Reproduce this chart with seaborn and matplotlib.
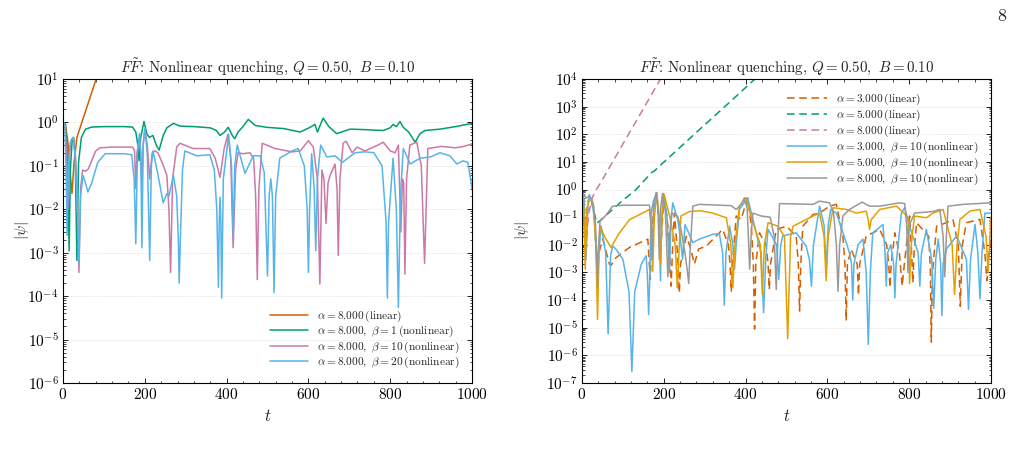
import numpy as np
import pandas as pd
import matplotlib
matplotlib.use("Agg")
import matplotlib.pyplot as plt
from matplotlib.ticker import AutoMinorLocator, LogLocator, NullFormatter
import seaborn as sns

# ---------------- data ----------------
# Left panel: alpha = 8
L_lin_t = [0, 6, 12, 18, 22, 27, 34, 50, 70, 90]
L_lin_v = [1.0, 0.9, 0.35, 0.06, 0.023, 0.12, 0.45, 1.3, 4.8, 18]

L_b1_t = [0, 5, 9, 12, 15, 18, 22, 26, 30, 34, 38, 45, 55, 70, 100, 150, 170, 178, 183, 186, 190,
          198, 205, 211, 220, 228, 235, 245, 254, 270, 286, 320, 360, 375, 384, 395, 404, 414, 420,
          428, 440, 453, 470, 498, 540, 580, 604, 616, 622, 636, 650, 669, 702, 740, 783, 800, 807,
          815, 824, 832, 845, 861, 873, 885, 922, 960, 1000]
L_b1_v = [1.0, 0.95, 0.4, 0.05, 1.1e-3, 0.08, 0.35, 0.45, 0.15, 6.6e-4, 0.12, 0.45, 0.7, 0.78, 0.8,
          0.8, 0.78, 0.6, 0.3, 0.13, 0.45, 1.05, 0.55, 0.45, 0.5, 0.3, 0.23, 0.5, 0.75, 0.95, 0.82,
          0.8, 0.75, 0.65, 0.5, 0.6, 0.77, 0.5, 0.42, 0.6, 0.8, 1.17, 0.85, 0.77, 0.72, 0.6, 0.77,
          0.9, 0.6, 1.25, 0.8, 0.55, 0.7, 0.68, 0.65, 0.75, 0.9, 0.8, 1.05, 0.77, 0.6, 0.35, 0.55,
          0.65, 0.7, 0.8, 0.95]

L_b10_t = [0, 5, 9, 12, 16, 20, 25, 30, 35, 39, 43, 48, 55, 62, 70, 80, 90, 120, 170, 175, 178, 181,
           187, 190, 193, 196, 200, 206, 212, 218, 225, 232, 244, 254, 259, 263, 268, 278, 286, 318,
           359, 372, 384, 394, 403, 410, 416, 422, 428, 440, 457, 466, 471, 475, 479, 487, 498, 518,
           560, 580, 600, 612, 622, 628, 633, 638, 643, 648, 653, 665, 670, 673, 677, 685, 692, 707,
           719, 738, 770, 783, 800, 812, 820, 826, 830, 833, 836, 840, 848, 865, 876, 884, 892, 925,
           960, 980, 1000]
L_b10_v = [1.0, 0.9, 0.15, 0.01, 0.2, 0.4, 0.45, 0.2, 0.02, 3.5e-4, 0.03, 0.08, 0.075, 0.085, 0.13,
           0.22, 0.26, 0.27, 0.27, 0.22, 0.03, 0.2, 0.45, 0.2, 0.03, 0.3, 0.72, 0.3, 0.05, 0.2, 0.22,
           0.2, 0.11, 0.06, 0.01, 3.5e-4, 0.05, 0.27, 0.33, 0.25, 0.25, 0.15, 0.054, 0.25, 0.53,
           0.15, 1.3e-3, 0.08, 0.2, 0.19, 0.2, 0.15, 0.02, 2.4e-4, 0.03, 0.33, 0.3, 0.25, 0.21, 0.22,
           0.38, 0.27, 0.05, 1.9e-4, 0.08, 0.05, 4.7e-3, 0.04, 0.06, 0.11, 0.03, 8.7e-4, 0.05, 0.33,
           0.37, 0.2, 0.27, 0.22, 0.3, 0.35, 0.22, 0.2, 0.3, 3e-3, 0.05, 0.04, 3.2e-4, 0.05, 0.3,
           0.35, 0.1, 5.7e-4, 0.25, 0.28, 0.26, 0.28, 0.32]

L_b20_t = [0, 5, 8, 10, 13, 18, 25, 30, 35, 39, 43, 49, 55, 61, 70, 85, 103, 150, 168, 174, 178, 182,
           187, 190, 193, 196, 200, 206, 212, 216, 220, 230, 245, 254, 259, 270, 278, 282, 284, 287,
           292, 298, 327, 359, 370, 376, 380, 382, 384, 386, 388, 392, 405, 412, 416, 420, 426, 445,
           465, 482, 492, 500, 504, 508, 512, 516, 520, 530, 560, 575, 590, 597, 600, 603, 608, 614,
           618, 622, 630, 645, 665, 683, 714, 738, 760, 780, 790, 793, 796, 807, 815, 820, 825, 832,
           849, 873, 898, 922, 946, 963, 978, 990, 1000]
L_b20_v = [1.0, 0.85, 0.05, 2.5e-3, 0.1, 0.35, 0.45, 0.15, 0.01, 5.7e-4, 0.02, 0.06, 0.04, 0.025,
           0.04, 0.12, 0.19, 0.19, 0.18, 0.05, 1.6e-3, 0.2, 0.55, 0.2, 1.3e-3, 0.3, 0.73, 0.2, 6.6e-4,
           0.1, 0.22, 0.08, 0.014, 0.023, 0.02, 0.06, 0.02, 2e-3, 2e-4, 2e-3, 0.08, 0.22, 0.17, 0.18,
           0.08, 0.01, 1.6e-4, 0.005, 0.019, 0.005, 9e-5, 0.05, 0.53, 0.1, 2.5e-3, 0.1, 0.3, 0.067,
           0.17, 0.17, 0.07, 2.9e-4, 0.02, 0.05, 0.02, 1.2e-4, 0.02, 0.15, 0.22, 0.25, 0.1, 0.01,
           3.5e-4, 0.01, 0.19, 0.03, 1.1e-3, 0.05, 0.3, 0.16, 0.17, 0.12, 0.2, 0.21, 0.2, 0.1, 0.005,
           9e-5, 0.005, 0.15, 0.01, 5.5e-5, 0.02, 0.25, 0.11, 0.15, 0.16, 0.2, 0.17, 0.11, 0.13, 0.12,
           0.03]

# Right panel: linear runs
R_a3_lin_t = [0, 5, 10, 14, 18, 24, 30, 35, 38, 41, 51, 60, 67, 71, 83, 116, 161, 164, 167, 170, 176,
              183, 188, 192, 196, 201, 210, 215, 218, 221, 226, 232, 235, 238, 241, 255, 265, 275, 285,
              304, 344, 358, 362, 365, 368, 377, 389, 405, 414, 419, 422, 425, 434, 450, 455, 458, 461,
              475, 500, 524, 529, 532, 535, 540, 565, 581, 605, 622, 638, 643, 646, 649, 658, 673, 676,
              679, 695, 711, 728, 745, 750, 753, 756, 765, 776, 780, 783, 786, 801, 806, 809, 812, 818,
              848, 852, 854, 857, 867, 891, 907, 920, 925, 930, 940, 956, 973, 985, 990, 995, 1000]
R_a3_lin_v = [0.7, 0.4, 5e-3, 0.2, 0.6, 0.4, 0.1, 0.005, 5e-4, 0.005, 0.016, 0.005, 0.002, 0.0018,
              0.0034, 0.008, 0.016, 0.003, 5.6e-4, 0.01, 0.3, 0.87, 0.05, 0.005, 0.05, 0.76, 0.05,
              0.003, 3.2e-4, 0.005, 0.14, 0.01, 0.002, 1.8e-4, 0.002, 0.02, 0.008, 0.002, 0.007, 0.009,
              0.036, 0.01, 0.002, 2e-4, 0.002, 0.11, 0.083, 0.5, 0.05, 0.002, 9e-6, 0.002, 0.027, 0.01,
              0.002, 2.4e-4, 0.002, 0.036, 0.047, 0.02, 0.002, 4e-5, 0.002, 0.047, 0.125, 0.14, 0.25,
              0.29, 0.02, 0.002, 1.8e-5, 0.002, 0.007, 0.002, 1.5e-4, 0.002, 0.021, 0.027, 0.036, 0.01,
              0.002, 2.8e-4, 0.002, 0.027, 0.005, 0.001, 3.2e-4, 0.001, 0.11, 0.005, 4.2e-4, 0.005,
              0.063, 0.02, 0.001, 3e-6, 0.001, 0.047, 0.063, 0.083, 0.01, 6e-5, 0.01, 0.063, 0.072,
              0.083, 0.005, 5e-4, 0.005, 0.016]

R_a5_lin_t = [0, 4, 8, 12, 18, 24, 30, 36, 42, 60, 100, 130, 171, 178, 186, 250, 300, 350, 423, 460]
R_a5_lin_v = [0.7, 0.3, 5e-3, 0.2, 0.6, 0.35, 0.15, 0.06, 0.07, 0.12, 0.41, 0.92, 4.2, 4.8, 6.3, 46,
              220, 1020, 1e4, 3.1e4]

R_a8_lin_t = [0, 4, 8, 12, 17, 25, 35, 44, 100, 150, 195]
R_a8_lin_v = [0.7, 0.4, 0.1, 0.025, 0.15, 0.5, 1.0, 1.6, 44, 830, 1.2e4]

# Right panel: nonlinear runs, beta = 10
R_a3_nl_t = [0, 5, 10, 14, 18, 24, 30, 35, 38, 41, 47, 58, 64, 70, 75, 83, 100, 115, 122, 129, 145,
             157, 160, 163, 166, 169, 175, 183, 188, 192, 195, 199, 208, 214, 218, 222, 234, 240, 246,
             252, 271, 287, 320, 336, 344, 348, 352, 361, 369, 373, 377, 385, 405, 418, 438, 444, 450,
             455, 476, 481, 486, 491, 524, 548, 556, 561, 566, 581, 592, 597, 602, 608, 622, 648, 654,
             659, 662, 665, 675, 687, 695, 700, 705, 711, 736, 741, 744, 747, 755, 762, 765, 768, 781,
             789, 801, 822, 826, 830, 842, 855, 860, 865, 871, 877, 880, 883, 891, 916, 940, 945, 950,
             961, 968, 973, 978, 985, 1000]
R_a3_nl_v = [0.7, 0.4, 3e-3, 0.2, 0.66, 0.4, 0.1, 5e-3, 3e-4, 5e-3, 0.047, 0.005, 6e-6, 0.004, 0.009,
             0.007, 0.003, 2e-4, 2.6e-7, 2e-4, 0.002, 0.004, 8e-4, 3e-5, 8e-4, 0.14, 0.4, 0.75, 0.1,
             5e-4, 0.1, 0.72, 0.1, 1e-3, 0.1, 0.33, 0.083, 0.02, 0.003, 0.054, 0.012, 0.016, 0.024,
             0.025, 0.005, 6.5e-5, 0.005, 0.047, 0.01, 1.3e-3, 0.01, 0.19, 0.5, 0.083, 0.005, 3.5e-5,
             0.005, 0.036, 0.01, 5.6e-4, 0.01, 0.021, 0.027, 0.009, 0.003, 3.2e-4, 0.01, 0.25, 0.05,
             1.3e-3, 0.05, 0.19, 0.14, 0.01, 0.005, 0.002, 1e-4, 0.002, 0.01, 0.016, 1e-3, 2.5e-6,
             1e-3, 0.027, 0.054, 0.005, 3.2e-4, 0.005, 0.01, 0.002, 1.2e-4, 0.002, 0.14, 0.22, 0.047,
             0.005, 3.2e-4, 0.005, 0.036, 0.003, 5e-5, 0.003, 0.016, 0.002, 2.7e-5, 0.002, 0.007,
             0.021, 0.003, 4.6e-5, 0.003, 0.054, 0.005, 1.1e-4, 0.005, 0.14, 0.14]

R_a5_nl_t = [0, 4, 8, 12, 18, 22, 28, 34, 38, 42, 44, 55, 71, 90, 116, 165, 169, 173, 177, 183, 188,
             192, 196, 201, 215, 228, 233, 238, 242, 263, 290, 320, 353, 364, 369, 374, 385, 401, 414,
             436, 441, 446, 455, 479, 495, 503, 510, 516, 565, 581, 592, 597, 602, 614, 646, 671, 695,
             700, 703, 707, 728, 769, 797, 801, 805, 813, 842, 858, 883, 905, 911, 917, 924, 948, 973,
             988, 993, 1000]
R_a5_nl_v = [0.7, 0.3, 1.3e-3, 0.2, 0.45, 0.5, 0.3, 0.01, 2e-5, 0.01, 0.05, 0.02, 0.008, 0.025, 0.08,
             0.19, 0.05, 1.1e-3, 0.1, 0.72, 0.1, 2e-3, 0.1, 0.66, 0.1, 0.01, 2.8e-4, 0.01, 0.11, 0.16,
             0.17, 0.14, 0.095, 0.01, 2.8e-4, 0.01, 0.25, 0.5, 0.095, 0.01, 1.6e-4, 0.01, 0.063, 0.047,
             0.02, 4e-6, 0.02, 0.047, 0.11, 0.14, 0.02, 5e-4, 0.02, 0.22, 0.19, 0.14, 0.165, 0.08,
             0.036, 0.08, 0.19, 0.25, 0.1, 4e-4, 0.01, 0.11, 0.095, 0.14, 0.19, 0.01, 1.6e-4, 0.01,
             0.083, 0.165, 0.19, 0.02, 1e-3, 0.1]

R_a8_nl_t = [0, 6, 10, 16, 22, 28, 33, 36, 38, 40, 44, 59, 75, 100, 165, 168, 171, 175, 181, 186, 189,
             192, 197, 204, 210, 215, 220, 234, 242, 252, 258, 261, 264, 271, 287, 365, 377, 390, 397,
             404, 410, 414, 418, 438, 460, 470, 475, 479, 483, 565, 581, 605, 615, 622, 626, 630, 638,
             654, 685, 703, 728, 777, 789, 794, 797, 800, 813, 858, 875, 883, 887, 891, 895, 932, 1000]
R_a8_nl_v = [0.8, 0.6, 0.5, 0.55, 0.45, 0.25, 0.05, 0.005, 3e-4, 0.005, 0.07, 0.12, 0.25, 0.27, 0.27,
             0.1, 3e-3, 0.2, 0.75, 0.2, 3e-3, 0.2, 0.72, 0.15, 7e-4, 0.03, 0.14, 0.11, 0.036, 0.005,
             0.001, 4e-4, 0.005, 0.25, 0.29, 0.26, 0.19, 0.3, 0.5, 0.2, 1.3e-3, 0.03, 0.14, 0.11, 0.1,
             0.02, 2.4e-4, 0.02, 0.31, 0.29, 0.38, 0.33, 0.15, 0.01, 2.1e-4, 0.01, 0.11, 0.19, 0.35,
             0.25, 0.25, 0.33, 0.31, 0.05, 1e-3, 0.05, 0.14, 0.16, 0.19, 0.02, 7e-4, 0.02, 0.25, 0.29,
             0.33]

TITLE = r"$F\tilde{F}$: Nonlinear quenching, $Q = 0.50,\ B = 0.10$"

# ---------------- style ----------------
sns.set_style("ticks")
plt.rcParams.update({
    "font.family": ["serif"],
    "font.serif": ["cmr10", "DejaVu Serif"],
    "mathtext.fontset": "cm",
    "axes.formatter.use_mathtext": True,
    "axes.unicode_minus": False,
    "xtick.direction": "in",
    "ytick.direction": "in",
    "xtick.top": True,
    "ytick.right": True,
    "xtick.minor.visible": True,
    "ytick.minor.visible": True,
    "xtick.major.size": 3.5,
    "ytick.major.size": 3.5,
    "xtick.minor.size": 1.8,
    "ytick.minor.size": 1.8,
    "xtick.major.width": 0.6,
    "ytick.major.width": 0.6,
    "xtick.minor.width": 0.5,
    "ytick.minor.width": 0.5,
    "axes.linewidth": 0.8,
    "axes.edgecolor": "black",
    "xtick.color": "black",
    "ytick.color": "black",
})

C_VER = "#D55E00"
C_GRN = "#009E73"
C_PNK = "#CC79A7"
C_BLU = "#56B4E9"
C_ORG = "#E69F00"
C_GRY = "#999999"

fig = plt.figure(figsize=(10.21, 4.58), dpi=100)
axL = fig.add_axes([0.0617, 0.1638, 0.4006, 0.6638])
axR = fig.add_axes([0.5700, 0.1638, 0.4006, 0.6638])

LW = 1.1
DASH = (0, (5, 3))


def draw(ax, t, v, color, label, ls="-"):
    df = pd.DataFrame({"t": t, "v": v})
    sns.lineplot(data=df, x="t", y="v", ax=ax, color=color, lw=LW, linestyle=ls,
                 label=label, estimator=None, sort=False)


draw(axL, L_lin_t, L_lin_v, C_VER, r"$\alpha = 8.000\,$(linear)")
draw(axL, L_b1_t, L_b1_v, C_GRN, r"$\alpha = 8.000,\ \beta = 1\,$(nonlinear)")
draw(axL, L_b10_t, L_b10_v, C_PNK, r"$\alpha = 8.000,\ \beta = 10\,$(nonlinear)")
draw(axL, L_b20_t, L_b20_v, C_BLU, r"$\alpha = 8.000,\ \beta = 20\,$(nonlinear)")

draw(axR, R_a3_lin_t, R_a3_lin_v, C_VER, r"$\alpha = 3.000\,$(linear)", DASH)
draw(axR, R_a5_lin_t, R_a5_lin_v, C_GRN, r"$\alpha = 5.000\,$(linear)", DASH)
draw(axR, R_a8_lin_t, R_a8_lin_v, C_PNK, r"$\alpha = 8.000\,$(linear)", DASH)
draw(axR, R_a3_nl_t, R_a3_nl_v, C_BLU, r"$\alpha = 3.000,\ \beta = 10\,$(nonlinear)")
draw(axR, R_a5_nl_t, R_a5_nl_v, C_ORG, r"$\alpha = 5.000,\ \beta = 10\,$(nonlinear)")
draw(axR, R_a8_nl_t, R_a8_nl_v, C_GRY, r"$\alpha = 8.000,\ \beta = 10\,$(nonlinear)")

for ax, ylim, ylab_x in ((axL, (1e-6, 1e1), -0.078), (axR, (1e-7, 1e4), -0.125)):
    ax.set_yscale("log")
    ax.set_xlim(0, 1000)
    ax.set_ylim(*ylim)
    ax.set_xticks([0, 200, 400, 600, 800, 1000])
    ax.xaxis.set_minor_locator(AutoMinorLocator(5))
    ax.yaxis.set_major_locator(LogLocator(base=10, numticks=20))
    ax.yaxis.set_minor_locator(LogLocator(base=10, subs=np.arange(2, 10) * 0.1 * 10, numticks=100))
    ax.yaxis.set_minor_formatter(NullFormatter())
    ax.grid(axis="y", which="major", ls="--", lw=0.5, color="#e6e6e6")
    ax.set_axisbelow(True)
    ax.tick_params(labelsize=11, pad=3)
    ax.set_xlabel(r"$t$", fontsize=12, labelpad=4)
    ax.set_ylabel(r"$|\psi|$", fontsize=11)
    ax.yaxis.set_label_coords(ylab_x, 0.5)
    ax.set_title(TITLE, fontsize=10.8, pad=5)
    for s in ax.spines.values():
        s.set_visible(True)

axL.legend(loc="lower right", frameon=False, fontsize=8.2, handlelength=3.3,
           labelspacing=0.02, borderaxespad=0.7, handletextpad=0.8)
axR.legend(loc="upper right", frameon=False, fontsize=8.2, handlelength=3.5,
           labelspacing=0.06, borderaxespad=0.7, handletextpad=0.8)

fig.text(0.986, 0.965, "8", fontsize=13, ha="right", va="center")

fig.savefig("out.png", dpi=100)
